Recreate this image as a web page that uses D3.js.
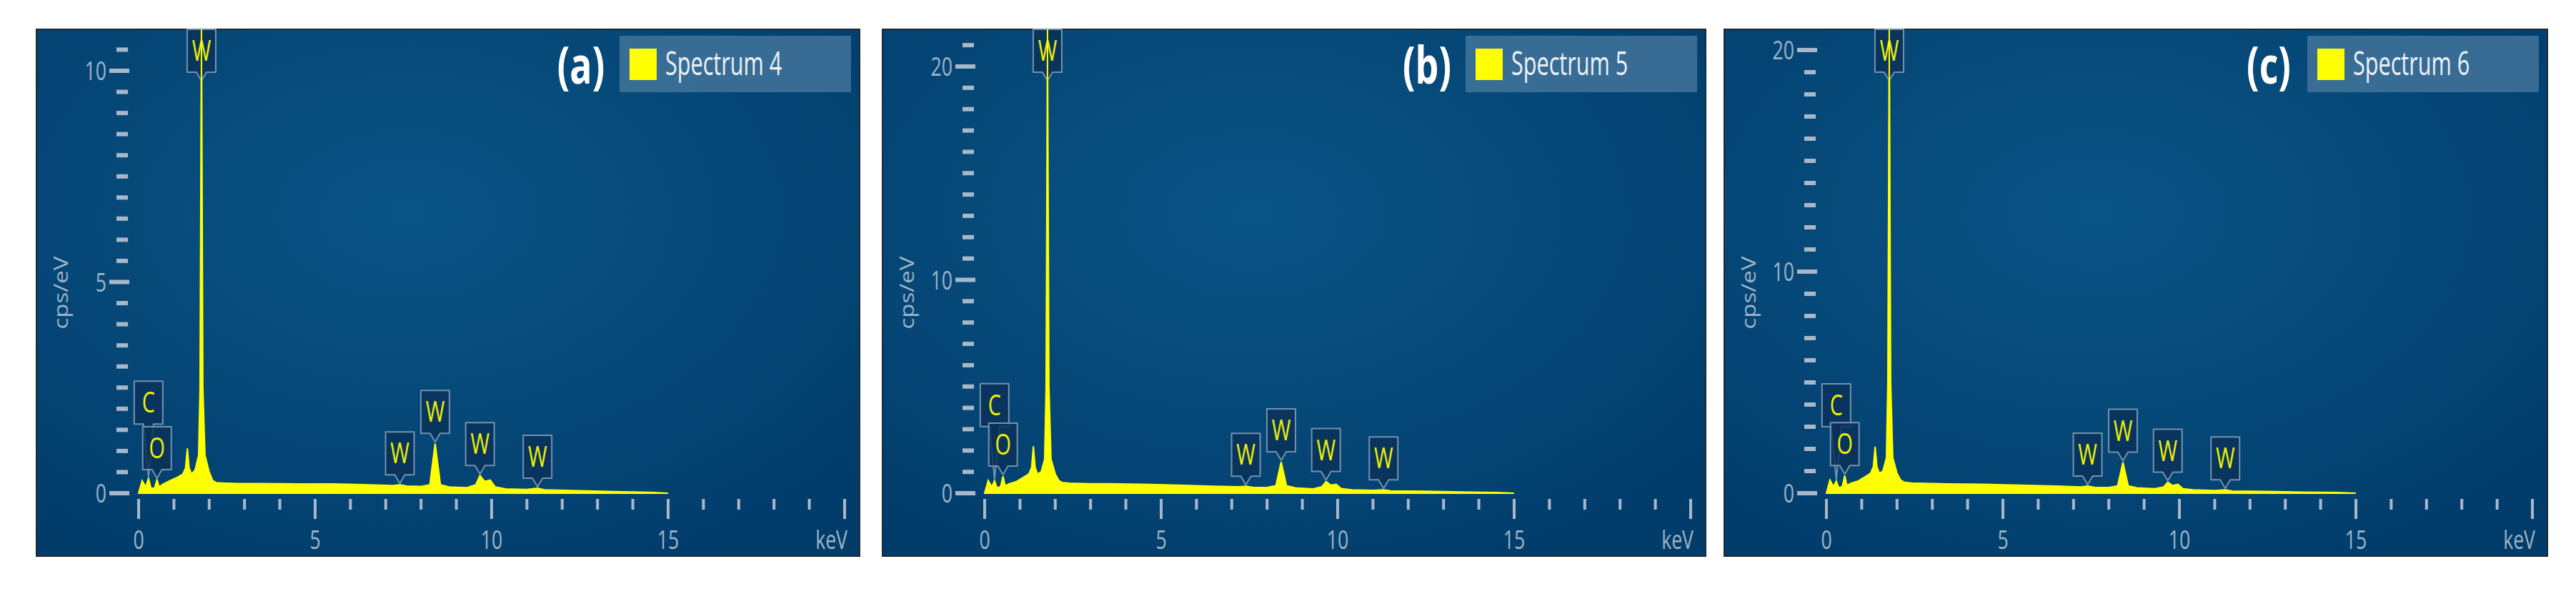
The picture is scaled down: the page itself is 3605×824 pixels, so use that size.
<!DOCTYPE html>
<html>
<head>
<meta charset="utf-8">
<script src="https://cdn.jsdelivr.net/npm/d3@7"></script>
<style>
  body { margin: 0; background: #fff; }
  text { font-family: "Open Sans", sans-serif; }
</style>
</head>
<body>
<svg id="chart" width="3605" height="824"></svg>
<script>
// shared energy grid (keV)
const energy = [0, 0.1, 0.2, 0.28, 0.35, 0.45, 0.52, 0.58, 0.7, 0.9, 1.1, 1.25, 1.33, 1.38, 1.43, 1.5, 1.6, 1.7, 1.74, 1.78, 1.82, 1.88, 2.0, 2.1, 2.2, 2.4, 2.8, 3.5, 4.5, 5.5, 6.5, 7.2, 7.4, 7.6, 8.0, 8.25, 8.4, 8.55, 8.8, 9.3, 9.55, 9.67, 9.8, 9.96, 10.1, 10.4, 11.0, 11.3, 11.5, 12.5, 13.5, 14.5, 15.0];

const spectrum4 = [0, 0.3, 0.15, 0.35, 0.12, 0.12, 0.32, 0.15, 0.22, 0.3, 0.38, 0.45, 0.6, 1.06, 0.6, 0.45, 0.55, 0.9, 2.5, 11, 2.5, 0.9, 0.5, 0.3, 0.25, 0.24, 0.23, 0.23, 0.22, 0.22, 0.2, 0.18, 0.2, 0.17, 0.16, 0.2, 1.18, 0.2, 0.15, 0.13, 0.2, 0.42, 0.28, 0.31, 0.15, 0.1, 0.09, 0.12, 0.08, 0.06, 0.04, 0.02, 0];
const spectrum5 = [0, 0.6, 0.3, 0.58, 0.25, 0.3, 0.8, 0.35, 0.45, 0.55, 0.75, 0.9, 1.2, 2.2, 1.2, 0.9, 1.0, 1.6, 5, 21.5, 5, 1.6, 0.9, 0.6, 0.5, 0.47, 0.45, 0.44, 0.42, 0.38, 0.33, 0.3, 0.33, 0.28, 0.27, 0.35, 1.47, 0.35, 0.25, 0.2, 0.3, 0.55, 0.38, 0.42, 0.22, 0.16, 0.13, 0.16, 0.11, 0.09, 0.06, 0.03, 0];
const spectrum6 = [0, 0.6, 0.3, 0.55, 0.25, 0.3, 0.8, 0.35, 0.45, 0.55, 0.75, 0.9, 1.2, 2.1, 1.2, 0.9, 1.0, 1.6, 5, 20.9, 5, 1.6, 0.9, 0.6, 0.5, 0.46, 0.44, 0.42, 0.4, 0.36, 0.32, 0.28, 0.32, 0.27, 0.26, 0.33, 1.4, 0.33, 0.24, 0.2, 0.28, 0.5, 0.35, 0.4, 0.2, 0.15, 0.12, 0.15, 0.1, 0.08, 0.05, 0.03, 0];

const panelTags = ["(a)", "(b)", "(c)"];
const legendNames = ["Spectrum 4", "Spectrum 5", "Spectrum 6"];
const yMaxTick = [10, 20, 20];
const yTop = [11.05, 21.7, 20.95];
const yMinorStep = [0.5, 1, 1];
const yLabelTicks = [[0, 5, 10], [0, 10, 20], [0, 10, 20]];
const xTicksMajor = [0, 5, 10, 15];

// element markers: symbol, energy, extra lift (px) above the peak
const markElements = ["C", "O", "W", "W", "W", "W", "W"];
const markEnergy = [0.28, 0.52, 1.78, 7.4, 8.4, 9.67, 11.3];
const markLift = [62, 0, 0, 0, 0, 0, 0];

const series = [spectrum4, spectrum5, spectrum6];
const panelLeft = [51, 1235, 2413];
const W = 1152, H = 737, panelTop = 41;

const svg = d3.select("#chart");
const defs = svg.append("defs");
const grad = defs.append("radialGradient").attr("id", "bg")
  .attr("cx", "45%").attr("cy", "35%").attr("r", "75%");
grad.append("stop").attr("offset", "0%").attr("stop-color", "#0a5586");
grad.append("stop").attr("offset", "100%").attr("stop-color", "#013c6b");

const tickCol = "#a9b8c9";
const labCol = "#9fb3c6";

series.forEach((vals, p) => {
  const g = svg.append("g").attr("transform", `translate(${panelLeft[p]},${panelTop})`);
  g.append("rect").attr("width", W).attr("height", H).attr("fill", "url(#bg)")
    .attr("stroke", "#1d2a33").attr("stroke-width", 2);

  const x = d3.scaleLinear().domain([0, 20]).range([143, 1131]);
  const y = d3.scaleLinear().domain([0, yMaxTick[p]]).range([649, p === 0 ? 58 : (p === 1 ? 52 : 29)]);

  // y ticks
  const yt = d3.range(0, yTop[p] + 0.01, yMinorStep[p]).filter(v => y(v) > 8);
  g.selectAll(".yt").data(yt).join("rect")
    .attr("x", v => yLabelTicks[p].includes(v) ? 102 : 112)
    .attr("width", v => yLabelTicks[p].includes(v) ? 28 : 16)
    .attr("y", v => y(v) - 3).attr("height", 6).attr("fill", tickCol);
  g.selectAll(".yl").data(yLabelTicks[p]).join("text")
    .attr("transform", v => `translate(98,${y(v) + 13}) scale(0.72,1)`)
    .attr("text-anchor", "end").attr("font-size", 37).attr("fill", labCol).text(v => v);
  g.append("text").attr("transform", `translate(44,${H / 2}) rotate(-90) scale(1,0.8)`)
    .attr("text-anchor", "middle").attr("font-size", 33).attr("fill", labCol).text("cps/eV");

  // x ticks
  const xt = d3.range(0, 21, 1);
  g.selectAll(".xt").data(xt).join("rect")
    .attr("x", v => x(v) - 2).attr("width", 4)
    .attr("y", 657).attr("height", v => v % 5 === 0 ? 28 : 15).attr("fill", tickCol);
  g.selectAll(".xl").data(xTicksMajor).join("text")
    .attr("transform", v => `translate(${x(v)},${727}) scale(0.72,1)`)
    .attr("text-anchor", "middle").attr("font-size", 37).attr("fill", labCol).text(v => v);
  g.append("text").attr("transform", `translate(${x(20) + 4},${727}) scale(0.72,1)`)
    .attr("text-anchor", "end").attr("font-size", 37).attr("fill", labCol).text("keV");

  // spectrum
  const data = energy.map((e, i) => [e, vals[i]]);
  const clipId = "clip" + p;
  defs.append("clipPath").attr("id", clipId).append("rect").attr("width", W).attr("height", H);
  g.append("path").datum(data).attr("clip-path", `url(#${clipId})`)
    .attr("fill", "#ffff00").attr("stroke", "#ffff00").attr("stroke-width", 2)
    .attr("d", d3.area().x(d => x(d[0])).y0(y(0)).y1(d => y(d[1])));

  // markers
  const interp = e => {
    const i = d3.bisectLeft(energy, e);
    if (energy[i] === e) return vals[i];
    const t = (e - energy[i - 1]) / (energy[i] - energy[i - 1]);
    return vals[i - 1] + t * (vals[i] - vals[i - 1]);
  };
  markElements.forEach((el, k) => {
    const cx = x(markEnergy[k]);
    const bw = 40, bh = 60, ph = 12;
    let boxBottom;
    if (k === 2) boxBottom = 60;
    else boxBottom = Math.max(y(interp(markEnergy[k])), 0) - 2 - ph - markLift[k];
    const m = g.append("g");
    m.append("path")
      .attr("d", `M${cx - bw / 2},${boxBottom - bh} h${bw} v${bh} h${-(bw / 2 - 7)} L${cx},${boxBottom + ph + markLift[k]} L${cx - 7},${boxBottom} H${cx - bw / 2} Z`)
      .attr("fill", "#0a3158").attr("fill-opacity", 0.82)
      .attr("stroke", "#7592ae").attr("stroke-width", 2).attr("stroke-linejoin", "round");
    m.append("text").attr("transform", `translate(${cx},${boxBottom - bh / 2 + 14}) scale(0.72,1)`)
      .attr("text-anchor", "middle").attr("font-size", 40).attr("fill", "#f0f000").text(el);
  });
  // main peak line over its marker
  g.append("line").attr("x1", x(1.78)).attr("x2", x(1.78)).attr("y1", 0).attr("y2", 80)
    .attr("stroke", "#ffff00").attr("stroke-width", 2);

  // legend
  g.append("rect").attr("x", 816).attr("y", 9).attr("width", 324).attr("height", 79)
    .attr("fill", "#4a7aa0").attr("fill-opacity", 0.75);
  g.append("rect").attr("x", 830).attr("y", 27).attr("width", 38).attr("height", 44).attr("fill", "#ffff00");
  g.append("text").attr("transform", `translate(880,${64}) scale(0.68,1)`)
    .attr("font-size", 45).attr("fill", "#eef3f7").text(legendNames[p]);
  g.append("text").attr("transform", `translate(762,${76}) scale(0.72,1)`)
    .attr("text-anchor", "middle").attr("font-size", 72).attr("font-weight", "bold")
    .attr("fill", "#ffffff").text(panelTags[p]);
});
</script>
</body>
</html>
